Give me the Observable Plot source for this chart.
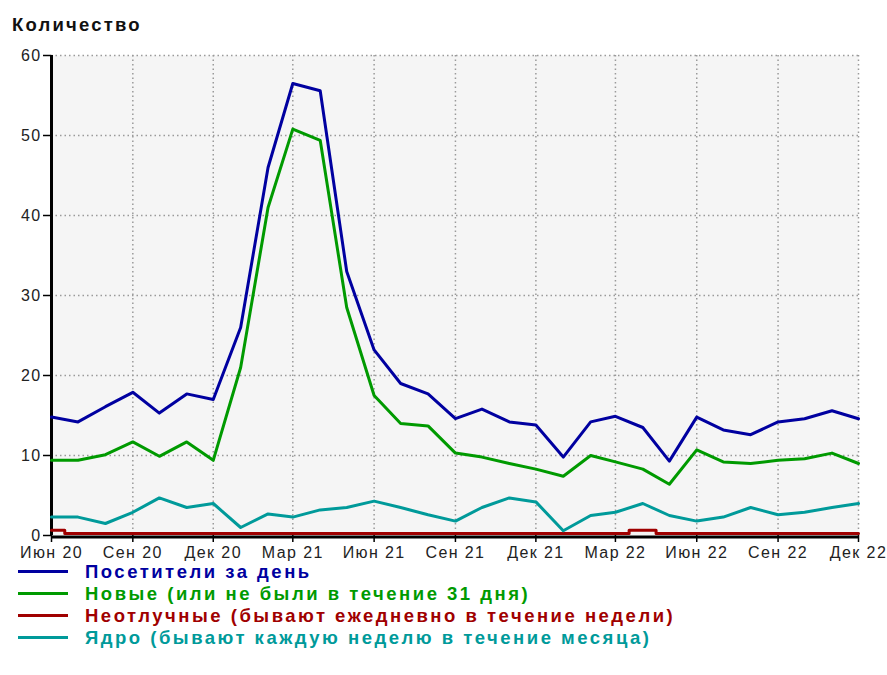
<!DOCTYPE html>
<html>
<head>
<meta charset="utf-8">
<script src="https://cdn.jsdelivr.net/npm/d3@7"></script>
<script src="https://cdn.jsdelivr.net/npm/@observablehq/plot@0.6"></script>
<style>
  html, body { margin: 0; padding: 0; background: #fff; }
  body { width: 887px; height: 675px; position: relative; overflow: hidden; font-family: "Liberation Sans", Arial, sans-serif; }
  #title { position: absolute; left: 12px; top: 14px; font-weight: bold; font-size: 18.5px; letter-spacing: 2.2px; color: #111; }
  #chart { position: absolute; left: 0; top: 40px; }
  #legend { position: absolute; left: 0; top: 563px; }
  .row { position: absolute; left: 0; height: 18px; width: 860px; }
  .sw { position: absolute; left: 18px; width: 50px; height: 3px; }
  .lab { position: absolute; left: 85px; font-weight: bold; font-size: 18.5px; letter-spacing: 2.5px; white-space: nowrap; line-height: 18px; }
</style>
</head>
<body>
<div id="title">Количество</div>
<div id="chart"></div>
<div id="legend"></div>
<script>
const months = ["2020-06","2020-07","2020-08","2020-09","2020-10","2020-11","2020-12",
  "2021-01","2021-02","2021-03","2021-04","2021-05","2021-06","2021-07","2021-08","2021-09","2021-10","2021-11","2021-12",
  "2022-01","2022-02","2022-03","2022-04","2022-05","2022-06","2022-07","2022-08","2022-09","2022-10","2022-11","2022-12"];

const visitors = [14.8,14.2,16.1,17.9,15.3,17.7,17.0, 26,46,56.5,55.6,33,23.2,19.0,17.7,14.6,15.8,14.2,13.8, 9.8,14.2,14.9,13.5,9.3,14.8,13.2,12.6,14.2,14.6,15.6,14.6];
const newVisitors = [9.4,9.4,10.1,11.7,9.9,11.7,9.4, 21,41,50.8,49.4,28.5,17.5,14.0,13.7,10.3,9.8,9.0,8.3, 7.4,10.0,9.2,8.3,6.4,10.7,9.2,9.0,9.4,9.6,10.3,9.0];
const regulars = [0.4,0,0,0,0,0,0, 0,0,0,0,0,0,0,0,0,0,0,0, 0,0,0,0.4,0,0,0,0,0,0,0,0];
const core = [2.3,2.3,1.5,2.9,4.7,3.5,4.0, 1.0,2.7,2.3,3.2,3.5,4.3,3.5,2.6,1.8,3.5,4.7,4.2, 0.6,2.5,2.9,4.0,2.5,1.8,2.3,3.5,2.6,2.9,3.5,4.0];

const tickMonths = ["2020-06","2020-09","2020-12","2021-03","2021-06","2021-09","2021-12","2022-03","2022-06","2022-09","2022-12"];
const tickLabels = ["Июн 20","Сен 20","Дек 20","Мар 21","Июн 21","Сен 21","Дек 21","Мар 22","Июн 22","Сен 22","Дек 22"];
const yTicks = [0,10,20,30,40,50,60];

const seriesNames = ["Посетители за день","Новые (или не были в течение 31 дня)","Неотлучные (бывают ежедневно в течение недели)","Ядро (бывают каждую неделю в течение месяца)"];
const seriesColors = ["#0000a0","#009a00","#a00000","#009a9a"];

const toDate = m => new Date(m + "-01T00:00:00Z");
const dates = months.map(toDate);
const tickDates = tickMonths.map(toDate);
const labelOf = new Map(tickDates.map((d, i) => [+d, tickLabels[i]]));

const mk = vals => vals.map((v, i) => ({date: dates[i], value: v}));

const grid = {stroke: "#9a9a9a", strokeOpacity: 1, strokeWidth: 1.5, strokeDasharray: "1.5,3"};

const chart = Plot.plot({
  width: 887,
  height: 522,
  marginTop: 15,
  marginLeft: 51,
  marginRight: 29,
  marginBottom: 27,
  x: {type: "utc", domain: [dates[0], dates[dates.length - 1]]},
  y: {domain: [0, 60]},
  style: {fontFamily: "'Liberation Sans', Arial, sans-serif", fontSize: "16px", color: "#222", background: "transparent", letterSpacing: "1.4px"},
  marks: [
    Plot.frame({fill: "#f5f5f5", stroke: null}),
    Plot.gridY(yTicks.slice(1), grid),
    Plot.gridX(tickDates.slice(1), grid),
    Plot.axisY({ticks: yTicks, tickSize: 8, tickPadding: 2, stroke: "black", strokeWidth: 1.5, label: null, fill: "#222"}),
    Plot.axisX({ticks: tickDates, tickFormat: d => labelOf.get(+d), tickSize: 7, tickPadding: 4, stroke: "black", strokeWidth: 1.5, label: null, fill: "#222"}),
    Plot.ruleX([dates[0]], {stroke: "black", strokeWidth: 3}),
    Plot.ruleY([0], {stroke: "black", strokeWidth: 3, dy: 1.5}),
    Plot.line(mk(regulars), {x: "date", y: "value", stroke: seriesColors[2], strokeWidth: 3, curve: "step", dy: -2}),
    Plot.line(mk(core), {x: "date", y: "value", stroke: seriesColors[3], strokeWidth: 3}),
    Plot.line(mk(newVisitors), {x: "date", y: "value", stroke: seriesColors[1], strokeWidth: 3}),
    Plot.line(mk(visitors), {x: "date", y: "value", stroke: seriesColors[0], strokeWidth: 3})
  ]
});
document.getElementById("chart").appendChild(chart);

const legend = document.getElementById("legend");
seriesNames.forEach((name, i) => {
  const row = document.createElement("div");
  row.className = "row";
  row.style.top = (i * 22) + "px";
  const sw = document.createElement("div");
  sw.className = "sw";
  sw.style.background = seriesColors[i];
  sw.style.top = "7px";
  const lab = document.createElement("div");
  lab.className = "lab";
  lab.style.color = seriesColors[i];
  lab.style.top = "0px";
  lab.textContent = name;
  row.appendChild(sw);
  row.appendChild(lab);
  legend.appendChild(row);
});
</script>
</body>
</html>
